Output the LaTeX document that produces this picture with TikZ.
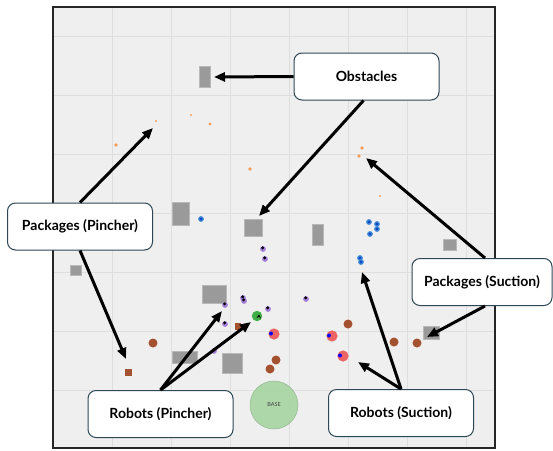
\documentclass[tikz,border=0pt]{standalone}
\usepackage{fontspec}
\setmainfont{Lato}
\usepackage{tikz}
\usetikzlibrary{arrows.meta}
\definecolor{fieldGray}{HTML}{EFEFEF}
\definecolor{gridGray}{HTML}{DEDEDE}
\definecolor{obstGray}{HTML}{9A9A9A}
\definecolor{pkgOrange}{HTML}{F79E5A}
\definecolor{pkgBlue}{HTML}{3F8AD6}
\definecolor{pkgBlueDark}{HTML}{1446C8}
\definecolor{robPurple}{HTML}{A57FD8}
\definecolor{robGreen}{HTML}{3FAE45}
\definecolor{robRed}{HTML}{EE4B4B}
\definecolor{rustBrown}{HTML}{A3512E}
\definecolor{baseGreen}{HTML}{A6D5A2}
\definecolor{boxEdge}{HTML}{2E4756}
\tikzset{
  callout/.style={draw=boxEdge, line width=1pt, fill=white, rounded corners=8pt,
    minimum width=145pt, minimum height=47pt, font=\fontsize{14}{16}\selectfont\bfseries},
  callarrow/.style={line width=3pt, -{Triangle[length=11pt,width=9pt]}},
  obstacle/.style={fill=obstGray, draw=obstGray!70!white, line width=0.6pt}
}

\begin{document}
\begin{tikzpicture}[x=1pt, y=-1pt]
  \useasboundingbox (0,0) rectangle (553,450);
  % field
  \fill [fieldGray] (53,7) rectangle (495,448);
  \foreach \g in {112,171,230,289,348,407,466}
    \draw [gridGray, line width=0.8pt] (\g,7) -- (\g,448);
  \foreach \g in {36,95,154,213,272,331,390}
    \draw [gridGray, line width=0.8pt] (53,\g) -- (495,\g);
  \draw [black!85, line width=1.2pt] (53,7) rectangle (495,448);

  % obstacles
  \filldraw [obstacle] (199,66) rectangle (210,87);
  \filldraw [obstacle] (172,202) rectangle (189,225);
  \filldraw [obstacle] (244,219) rectangle (262,236);
  \filldraw [obstacle] (312,224) rectangle (323,245);
  \filldraw [obstacle] (202,285) rectangle (226,303);
  \filldraw [obstacle] (172,351) rectangle (197,363);
  \filldraw [obstacle] (222,353) rectangle (242,373);
  \filldraw [obstacle] (70,265) rectangle (81,275);
  \filldraw [obstacle] (443,239) rectangle (456,250);
  \filldraw [obstacle] (423,326) rectangle (439,339);

  % orange packages
  \fill [pkgOrange] (116,145) circle (1.8);
  \fill [pkgOrange] (156,121) circle (1.2);
  \fill [pkgOrange] (191,115) circle (1.2);
  \fill [pkgOrange] (210,124) circle (1.6);
  \fill [pkgOrange] (250,169) circle (1.8);
  \fill [pkgOrange] (362,148) circle (1.8);
  \fill [pkgOrange] (359,156) circle (1.8);
  \fill [pkgOrange] (380,196) circle (1.2);

  % blue packages
  \foreach \p in {(201,219),(369,222),(377,224),(377,229),(370,234),(360,258),(361,262)} {
    \fill [pkgBlue] \p circle (2.9);
    \fill [pkgBlueDark] \p circle (1.6);
  }

  % brown packages and docks
  \fill [rustBrown] (124.5,368.5) rectangle (131.5,375.5);
  \fill [rustBrown] (235,323) rectangle (241,330);
  \foreach \p in {(153,343),(276,360),(270,369),(348,324),(394,342),(417,343)}
    \fill [rustBrown] \p circle (4.5);

  % pincher robots
  \foreach \p in {(263,249),(265,259),(243,298),(244,301),(225,305),(268,309),(306,299),(225,324),(214,351)} {
    \fill [robPurple] \p circle (2.9);
    \fill [black] \p ++(-0.4,-1.2) circle (1.6);
  }
  \fill [robGreen] (257,316) circle (5.2);
  \fill [black] (256.5,318) -- (259,314.5) -- (261,318.5) -- (259,316.8) -- cycle;

  % suction robots
  \foreach \p in {(274,334),(332,336),(343,356)} {
    \fill [robRed, opacity=0.85] \p circle (5.6);
    \fill [blue] \p ++(-3,-0.5) circle (2);
  }

  % base
  \filldraw [fill=baseGreen, draw=baseGreen!85!black, line width=0.5pt, opacity=0.9] (274,405) circle (24);
  \node (base) at (274,405) {\fontsize{5.5}{6}\selectfont\color{black!75}BASE};

  % callouts
  \coordinate (obstA) at (214,77);
  \coordinate (obstB) at (259,216);
  \coordinate (pinA) at (153,128);
  \coordinate (pinB) at (126,359);
  \coordinate (rpA) at (222,311);
  \coordinate (rpB) at (251,322);
  \coordinate (sucA) at (366,158);
  \coordinate (sucB) at (427,337);
  \coordinate (rsA) at (362,272);
  \coordinate (rsB) at (358,362);

  \node [callout] (obst) at (366.5,76.5) {Obstacles};
  \node [callout] (pkgpin) at (80,226.5) {Packages (Pincher)};
  \node [callout] (robpin) at (160.5,414) {Robots (Pincher)};
  \node [callout] (robsuc) at (401,413) {Robots (Suction)};
  \node [callout, minimum width=140pt] (pkgsuc) at (482,282) {Packages (Suction)};

  \draw [callarrow] (obst.west) -- (obstA);
  \draw [callarrow] ([xshift=-3pt]obst.south) -- (obstB);
  \draw [callarrow] (pkgpin.north) -- (pinA);
  \draw [callarrow] (pkgpin.south) -- (pinB);
  \draw [callarrow] (robpin.north) -- (rpA);
  \draw [callarrow] (robpin.north) -- (rpB);
  \draw [callarrow] ([xshift=3pt]pkgsuc.north) -- (sucA);
  \draw [callarrow] ([xshift=3pt]pkgsuc.south) -- (sucB);
  \draw [callarrow] (robsuc.north) -- (rsA);
  \draw [callarrow] (robsuc.north) -- (rsB);
\end{tikzpicture}
\end{document}
